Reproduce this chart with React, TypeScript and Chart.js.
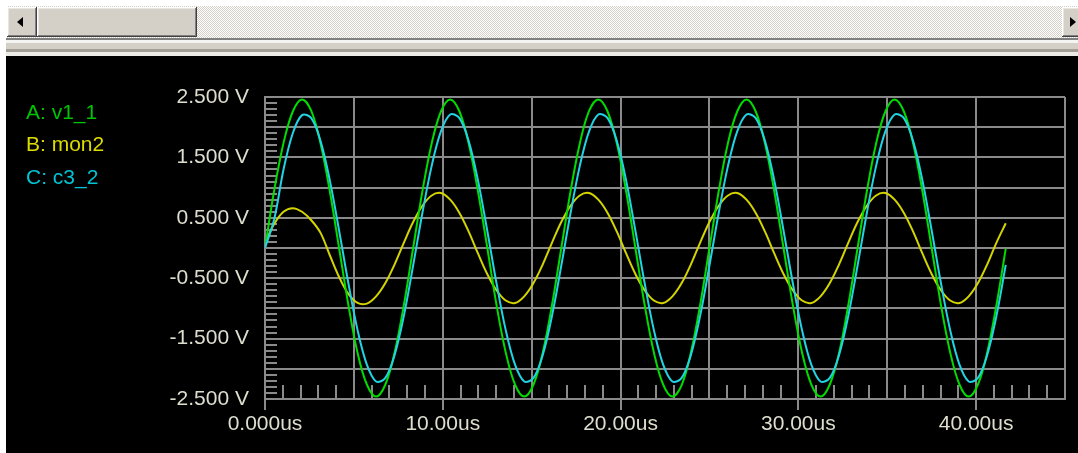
import React, { useEffect, useRef } from 'react';
import { Chart, registerables } from 'chart.js';

Chart.register(...registerables);

// time axis (microseconds)
const TIME_US = [
  0, 0.521, 1.042, 1.563, 2.083, 2.604, 3.125, 3.646, 4.167, 4.688, 5.208, 5.729, 6.25, 6.771, 7.292, 7.813,
  8.333, 8.854, 9.375, 9.896, 10.417, 10.938, 11.458, 11.979, 12.5, 13.021, 13.542, 14.063, 14.583, 15.104, 15.625, 16.146,
  16.667, 17.188, 17.708, 18.229, 18.75, 19.271, 19.792, 20.313, 20.833, 21.354, 21.875, 22.396, 22.917, 23.438, 23.958, 24.479,
  25.0, 25.521, 26.042, 26.563, 27.083, 27.604, 28.125, 28.646, 29.167, 29.688, 30.208, 30.729, 31.25, 31.771, 32.292, 32.813,
  33.333, 33.854, 34.375, 34.896, 35.417, 35.938, 36.458, 36.979, 37.5, 38.021, 38.542, 39.063, 39.583, 40.104, 40.625, 41.146,
  41.667,
];

// A: v1_1 (V)
const V1_1 = [
  0.0, 0.96, 1.74, 2.26, 2.46, 2.27, 1.73, 0.94, 0.0, -0.94, -1.74, -2.26, -2.46, -2.26, -1.73, -0.94,
  0.0, 0.94, 1.73, 2.26, 2.46, 2.26, 1.73, 0.94, 0.01, -0.94, -1.73, -2.26, -2.46, -2.26, -1.73, -0.94,
  0.0, 0.94, 1.73, 2.27, 2.46, 2.26, 1.73, 0.94, 0.0, -0.94, -1.73, -2.26, -2.46, -2.27, -1.73, -0.94,
  0.0, 0.94, 1.74, 2.26, 2.46, 2.26, 1.73, 0.94, 0.0, -0.94, -1.73, -2.26, -2.46, -2.26, -1.74, -0.94,
  0.0, 0.94, 1.73, 2.26, 2.46, 2.26, 1.73, 0.94, 0.0, -0.94, -1.73, -2.26, -2.46, -2.26, -1.73, -0.94,
  -0.01,
];

// B: mon2 (V)
const MON2 = [
  0.08, 0.4, 0.6, 0.66, 0.6, 0.46, 0.25, -0.12, -0.48, -0.76, -0.91, -0.92, -0.8, -0.58, -0.27, 0.09,
  0.43, 0.7, 0.87, 0.91, 0.8, 0.58, 0.27, -0.09, -0.43, -0.7, -0.87, -0.91, -0.8, -0.58, -0.27, 0.09,
  0.43, 0.7, 0.87, 0.91, 0.8, 0.58, 0.27, -0.09, -0.43, -0.7, -0.87, -0.91, -0.8, -0.58, -0.27, 0.09,
  0.43, 0.7, 0.87, 0.91, 0.8, 0.58, 0.27, -0.09, -0.43, -0.7, -0.87, -0.91, -0.8, -0.58, -0.27, 0.09,
  0.43, 0.7, 0.87, 0.91, 0.8, 0.58, 0.27, -0.09, -0.43, -0.7, -0.87, -0.91, -0.8, -0.58, -0.27, 0.09,
  0.41,
];

// C: c3_2 (V)
const C3_2 = [
  0.0, 0.48, 1.3, 1.9, 2.2, 2.15, 1.77, 1.12, 0.29, -0.58, -1.36, -1.93, -2.21, -2.15, -1.77, -1.12,
  -0.29, 0.58, 1.36, 1.93, 2.21, 2.15, 1.77, 1.12, 0.29, -0.58, -1.36, -1.93, -2.21, -2.15, -1.77, -1.12,
  -0.29, 0.58, 1.36, 1.93, 2.21, 2.15, 1.77, 1.12, 0.29, -0.58, -1.36, -1.93, -2.21, -2.15, -1.77, -1.12,
  -0.29, 0.58, 1.36, 1.93, 2.21, 2.15, 1.77, 1.12, 0.29, -0.58, -1.36, -1.93, -2.21, -2.15, -1.77, -1.12,
  -0.29, 0.58, 1.36, 1.93, 2.21, 2.15, 1.77, 1.12, 0.29, -0.58, -1.36, -1.93, -2.21, -2.15, -1.77, -1.12,
  -0.28,
];

const SERIES_NAMES = ['A: v1_1', 'B: mon2', 'C: c3_2'];
const LEGEND_COLORS = ['#00c400', '#dcdc00', '#00c4d4'];
const LINE_COLORS = ['#00dc00', '#d4d400', '#20d4e4'];

const Y_GRID = [-2.5, -2, -1.5, -1, -0.5, 0, 0.5, 1, 1.5, 2, 2.5];
const Y_LABELS: Record<string, string> = {
  '2.5': '2.500 V', '1.5': '1.500 V', '0.5': '0.500 V',
  '-0.5': '-0.500 V', '-1.5': '-1.500 V', '-2.5': '-2.500 V',
};
const X_GRID = [0, 5, 10, 15, 20, 25, 30, 35, 40, 45];
const X_LABELS: Record<string, string> = {
  '0': '0.000us', '10': '10.00us', '20': '20.00us', '30': '30.00us', '40': '40.00us',
};
const Y_MINOR = Array.from({ length: 51 }, (_, i) => Math.round((-2.5 + i * 0.1) * 10) / 10);
const X_MINOR = Array.from({ length: 44 }, (_, i) => i + 1);

const GRID = '#8a8a8a';
const TEXT = '#dedecf';
const FONT = "'Liberation Sans', Arial, sans-serif";

const minorTicks = {
  id: 'minorTicks',
  beforeDatasetsDraw(chart: any) {
    const { ctx, chartArea, scales } = chart;
    ctx.save();
    ctx.strokeStyle = GRID;
    ctx.lineWidth = 2;
    Y_MINOR.forEach((v) => {
      const y = Math.round(scales.y.getPixelForValue(v));
      ctx.beginPath();
      ctx.moveTo(chartArea.left, y);
      ctx.lineTo(chartArea.left + 12, y);
      ctx.stroke();
    });
    X_MINOR.forEach((v) => {
      const x = Math.round(scales.x.getPixelForValue(v));
      ctx.beginPath();
      ctx.moveTo(x, chartArea.bottom);
      ctx.lineTo(x, chartArea.bottom - 14);
      ctx.stroke();
    });
    ctx.restore();
  },
};

function Button({ left, width, dir }: { left: number; width: number; dir?: 'l' | 'r' }) {
  return (
    <div
      style={{
        position: 'absolute', left, top: 7, width, height: 30, background: '#d4d0c8',
        boxShadow: 'inset -1px -1px #404040, inset 1px 1px #ffffff, inset -2px -2px #808080, inset 2px 2px #e8e6e0',
      }}
    >
      {dir === 'l' && (
        <div style={{ position: 'absolute', left: 10, top: 10, width: 0, height: 0,
          borderTop: '5px solid transparent', borderBottom: '5px solid transparent', borderRight: '6px solid #000' }} />
      )}
      {dir === 'r' && (
        <div style={{ position: 'absolute', left: 8, top: 10, width: 0, height: 0,
          borderTop: '5px solid transparent', borderBottom: '5px solid transparent', borderLeft: '6px solid #000' }} />
      )}
    </div>
  );
}

export default function App() {
  const ref = useRef<HTMLCanvasElement>(null);

  useEffect(() => {
    const canvas = ref.current;
    if (!canvas) return;
    const mk = (vals: number[]) => vals.map((v, i) => ({ x: TIME_US[i], y: v }));
    const chart = new Chart(canvas, {
      type: 'line',
      data: {
        datasets: [
          { label: SERIES_NAMES[2], data: mk(C3_2), borderColor: LINE_COLORS[2], order: 0 },
          { label: SERIES_NAMES[0], data: mk(V1_1), borderColor: LINE_COLORS[0], order: 1 },
          { label: SERIES_NAMES[1], data: mk(MON2), borderColor: LINE_COLORS[1], order: 2 },
        ].map((d) => ({ ...d, borderWidth: 2, pointRadius: 0, tension: 0.35, fill: false })),
      },
      options: {
        responsive: false,
        maintainAspectRatio: false,
        devicePixelRatio: 1,
        animation: false,
        events: [],
        layout: { padding: { top: 41, right: 13, left: 0, bottom: 0 } },
        plugins: { legend: { display: false }, tooltip: { enabled: false } },
        scales: {
          x: {
            type: 'linear',
            position: 'bottom',
            min: 0,
            max: 45,
            afterBuildTicks: (scale: any) => { scale.ticks = X_GRID.map((v) => ({ value: v })); },
            afterFit: (scale: any) => { scale.height = 54; },
            grid: {
              color: GRID,
              lineWidth: 2,
              drawTicks: true,
              tickLength: 11,
              tickWidth: 2,
              tickColor: (c: any) => (c.tick && X_LABELS[String(c.tick.value)] ? GRID : 'rgba(0,0,0,0)'),
            },
            border: { display: true, color: GRID, width: 2 },
            ticks: {
              autoSkip: false,
              maxRotation: 0,
              minRotation: 0,
              padding: 2,
              color: TEXT,
              font: { family: FONT, size: 21 },
              callback: (v: any) => X_LABELS[String(v)] ?? '',
            },
          },
          y: {
            type: 'linear',
            min: -2.5,
            max: 2.5,
            afterBuildTicks: (scale: any) => { scale.ticks = Y_GRID.map((v) => ({ value: v })); },
            afterFit: (scale: any) => { scale.width = 259; },
            grid: { color: GRID, lineWidth: 2, drawTicks: false },
            border: { display: true, color: GRID, width: 2 },
            ticks: {
              autoSkip: false,
              padding: 16,
              color: TEXT,
              font: { family: FONT, size: 21 },
              callback: (v: any) => Y_LABELS[String(v)] ?? '',
            },
          },
        },
      },
      plugins: [minorTicks],
    } as any);
    return () => chart.destroy();
  }, []);

  const legendTops = [44.5, 77, 109.5];

  return (
    <div style={{ position: 'absolute', left: 0, top: 0, width: 1078, height: 453, background: '#ffffff', overflow: 'hidden' }}>
      {/* scrollbar track */}
      <div style={{ position: 'absolute', left: 7, top: 6, width: 1071, height: 32,
        background: 'repeating-conic-gradient(#d4d0c8 0% 25%, #ffffff 0% 50%) 0 0 / 2px 2px' }} />
      <Button left={7} width={30} dir="l" />
      <Button left={37} width={160} />
      <Button left={1062} width={30} dir="r" />
      {/* frame bands */}
      <div style={{ position: 'absolute', left: 6, top: 38, width: 1072, height: 2, background: '#808080' }} />
      <div style={{ position: 'absolute', left: 6, top: 40, width: 1072, height: 3, background: '#f4f4f2' }} />
      <div style={{ position: 'absolute', left: 6, top: 43, width: 1072, height: 6, background: '#d4d0c8' }} />
      <div style={{ position: 'absolute', left: 6, top: 49, width: 1072, height: 3, background: '#a29e96' }} />
      <div style={{ position: 'absolute', left: 6, top: 52, width: 1072, height: 4, background: '#ecebe8' }} />
      {/* plot panel */}
      <div style={{ position: 'absolute', left: 6, top: 56, width: 1072, height: 397, background: '#000000' }}>
        <canvas ref={ref} width={1072} height={397} style={{ display: 'block', width: 1072, height: 397 }} />
        {SERIES_NAMES.map((name, i) => (
          <div key={name} style={{ position: 'absolute', left: 20, top: legendTops[i], fontFamily: FONT,
            fontSize: 21, lineHeight: '21px', color: LEGEND_COLORS[i], whiteSpace: 'nowrap' }}>
            {name}
          </div>
        ))}
      </div>
    </div>
  );
}
